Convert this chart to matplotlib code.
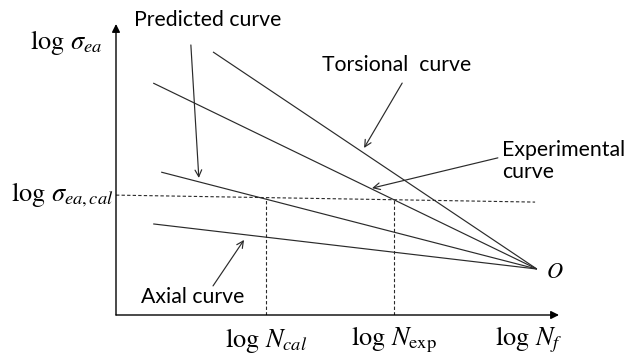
import numpy as np
import matplotlib
matplotlib.use('Agg')
import matplotlib.pyplot as plt

# ---------------- datos (esquema, ejes en unidades arbitrarias 0-10) ----------------
curve_names = ['Torsional', 'Experimental', 'Predicted', 'Axial']
start_x = [2.19, 0.84, 1.02, 0.84]
start_y = [9.04, 7.97, 4.91, 3.13]
o_x, o_y = 9.50, 1.58          # punto O donde convergen las curvas

n_cal = 3.39                   # log N_cal
n_exp = 6.28                   # log N_exp
sigma_cal_x = [0.0, 9.46]      # linea punteada de log sigma_ea,cal
sigma_cal_y = [4.12, 3.88]

plt.rcParams['mathtext.fontset'] = 'stix'
txt_font = ['Lato', 'DejaVu Sans']
fs_txt = 15.3
fs_math = 19

fig = plt.figure(figsize=(6.4, 3.59), dpi=100)
ax = fig.add_axes([116 / 640, 44 / 359, 443 / 640, 291 / 359])
ax.set_xlim(0, 10)
ax.set_ylim(0, 10)
ax.axis('off')

# ejes con flecha
ax.annotate('', xy=(10, 0), xytext=(0, 0), annotation_clip=False,
            arrowprops=dict(arrowstyle='-|>', lw=1.0, color='k', mutation_scale=12,
                            shrinkA=0, shrinkB=0))
ax.annotate('', xy=(0, 10), xytext=(0, 0), annotation_clip=False,
            arrowprops=dict(arrowstyle='-|>', lw=1.0, color='k', mutation_scale=12,
                            shrinkA=0, shrinkB=0))

# curvas
for i in range(len(curve_names)):
    ax.plot([start_x[i], o_x], [start_y[i], o_y], color='#2a2a2a', lw=0.85,
            solid_capstyle='butt')

# lineas punteadas
ax.plot(sigma_cal_x, sigma_cal_y, color='#2a2a2a', lw=0.8, ls=(0, (3, 2)))
for xv in [n_cal, n_exp]:
    ytop = np.interp(xv, sigma_cal_x, sigma_cal_y)
    ax.plot([xv, xv], [0, ytop], color='#2a2a2a', lw=0.8, ls=(0, (3, 2)))

# etiquetas con flecha
arr = dict(arrowstyle='->', lw=0.85, color='#2a2a2a', shrinkA=0, shrinkB=0,
           mutation_scale=12)
ax.annotate('', xy=(1.87, 4.71), xytext=(1.69, 9.28), arrowprops=arr)
ax.text(2.08, 10.14, 'Predicted curve', ha='center', va='center', fontsize=fs_txt,
        family=txt_font, clip_on=False)

ax.annotate('', xy=(5.60, 5.74), xytext=(6.46, 7.97), arrowprops=arr)
ax.text(6.34, 8.59, 'Torsional  curve', ha='center', va='center', fontsize=fs_txt,
        family=txt_font)

ax.annotate('', xy=(5.78, 4.36), xytext=(8.62, 5.40), arrowprops=arr)
ax.text(8.71, 5.29, 'Experimental\ncurve', ha='left', va='center', fontsize=fs_txt,
        family=txt_font, linespacing=1.15, clip_on=False)

ax.annotate('', xy=(2.89, 2.58), xytext=(2.19, 1.00), arrowprops=arr)
ax.text(1.74, 0.62, 'Axial curve', ha='center', va='center', fontsize=fs_txt,
        family=txt_font)

# etiquetas matematicas
ax.text(-1.13, 9.35, r'$\log\,\sigma_{ea}$', ha='center', va='center', fontsize=fs_math,
        clip_on=False)
ax.text(-0.05, 4.15, r'$\log\,\sigma_{ea,cal}$', ha='right', va='center', fontsize=fs_math,
        clip_on=False)
ax.text(n_cal, -0.86, r'$\log\,N_{cal}$', ha='center', va='center', fontsize=fs_math,
        clip_on=False)
ax.text(n_exp, -0.86, r'$\log\,N_{\mathrm{exp}}$', ha='center', va='center', fontsize=fs_math,
        clip_on=False)
ax.text(9.32, -0.86, r'$\log\,N_{f}$', ha='center', va='center', fontsize=fs_math,
        clip_on=False)
ax.text(9.91, 1.48, r'$O$', ha='center', va='center', fontsize=16, clip_on=False)

plt.savefig('out.png', dpi=100)
